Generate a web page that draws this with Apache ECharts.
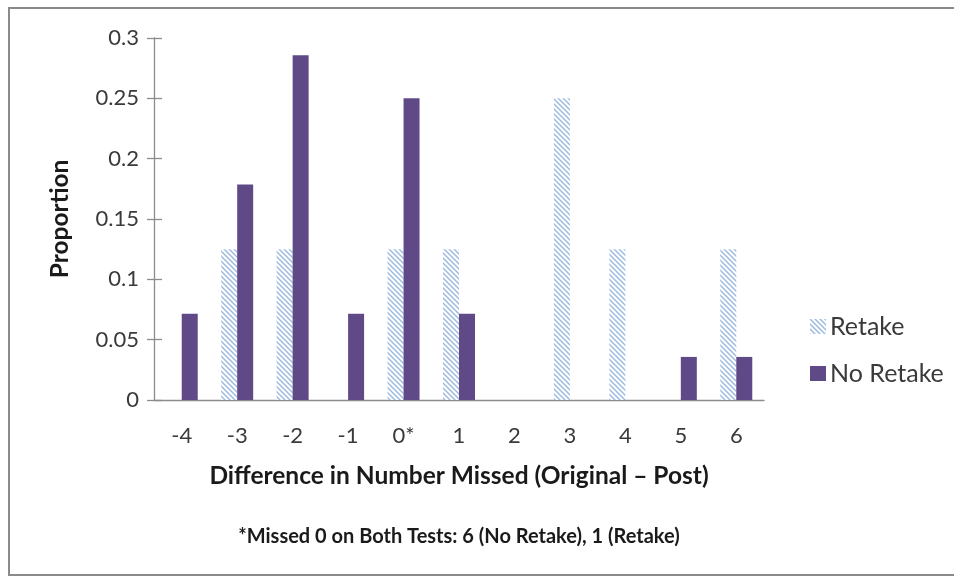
<!DOCTYPE html>
<html>
<head>
<meta charset="utf-8">
<script src="https://cdn.jsdelivr.net/npm/echarts@6/dist/echarts.min.js"></script>
<style>
  html, body { margin: 0; padding: 0; background: #fff; }
  #chart { width: 954px; height: 580px; }
</style>
</head>
<body>
<div id="chart"></div>
<script>
// Difference in number of questions missed (original minus post test)
const categories = ['-4', '-3', '-2', '-1', '0*', '1', '2', '3', '4', '5', '6'];
// Proportion of students in each group
const retake   = [0, 0.125, 0.125, 0, 0.125, 0.125, 0, 0.25, 0.125, 0, 0.125];
const noRetake = [0.0714, 0.1786, 0.2857, 0.0714, 0.25, 0.0714, 0, 0, 0, 0.0357, 0.0357];
const yTicks = { min: 0, max: 0.3, interval: 0.05 };

const FONT = 'Lato, "Open Sans", "Liberation Sans", sans-serif';
const TEXT = '#3a3a3a';
const AXIS = '#8c8c8c';

// Hatched fill: light blue diagonal stripes on white
function hatchPattern() {
  const c = document.createElement('canvas');
  c.width = 5; c.height = 5;
  const g = c.getContext('2d');
  g.fillStyle = '#ffffff';
  g.fillRect(0, 0, 5, 5);
  g.strokeStyle = '#9dbbe0';
  g.lineWidth = 1.5;
  g.beginPath();
  g.moveTo(-1, -1); g.lineTo(6, 6);
  g.moveTo(-1, 4); g.lineTo(1, 6);
  g.moveTo(4, -1); g.lineTo(6, 1);
  g.stroke();
  return { image: c, repeat: 'repeat' };
}

const chart = echarts.init(document.getElementById('chart'), null, { renderer: 'canvas' });
chart.setOption({
  animation: false,
  backgroundColor: '#ffffff',
  grid: { left: 154, right: 190, top: 38, bottom: 180, containLabel: false },
  legend: {
    orient: 'vertical',
    left: 805,
    top: 309,
    itemWidth: 16,
    itemHeight: 15,
    itemGap: 22,
    icon: 'rect',
    textStyle: { fontFamily: FONT, fontSize: 25, color: TEXT, padding: [0, 0, 0, -1] },
    data: ['Retake', 'No Retake']
  },
  xAxis: {
    type: 'category',
    data: categories,
    name: 'Difference in Number Missed (Original \u2013 Post)',
    nameLocation: 'middle',
    nameGap: 64,
    nameTextStyle: { fontFamily: FONT, fontSize: 24.5, fontWeight: 'bold', color: '#1a1a1a' },
    axisLine: { lineStyle: { color: AXIS, width: 1.3 } },
    axisTick: { show: false },
    axisLabel: { fontFamily: FONT, fontSize: 22, color: TEXT, margin: 25 }
  },
  yAxis: [{
    type: 'value',
    min: yTicks.min, max: yTicks.max, interval: yTicks.interval,
    name: 'Proportion',
    nameLocation: 'middle',
    nameGap: 81,
    nameRotate: 90,
    nameTextStyle: { fontFamily: FONT, fontSize: 24.5, fontWeight: 'bold', color: '#1a1a1a' },
    splitLine: { show: false },
    axisLine: { show: true, lineStyle: { color: AXIS, width: 1.3 } },
    axisTick: { show: true, length: 7, lineStyle: { color: AXIS, width: 1.3 } },
    axisLabel: { fontFamily: FONT, fontSize: 22, color: TEXT, margin: 15 }
  }, {
    // inner half of the crossing tick marks
    type: 'value',
    position: 'left',
    min: yTicks.min, max: yTicks.max, interval: yTicks.interval,
    splitLine: { show: false },
    axisLine: { show: false },
    axisTick: { show: true, inside: true, length: 8, lineStyle: { color: AXIS, width: 1.3 } },
    axisLabel: { show: false }
  }],
  series: [{
    name: 'Retake',
    type: 'bar',
    data: retake,
    barWidth: 16,
    barGap: '0%',
    itemStyle: { color: hatchPattern() }
  }, {
    name: 'No Retake',
    type: 'bar',
    data: noRetake,
    barWidth: 16,
    barGap: '0%',
    itemStyle: { color: '#5f4a87' }
  }],
  graphic: [{
    type: 'rect',
    shape: { x: 9, y: 8, width: 960, height: 567 },
    style: { fill: 'none', stroke: '#8a8a8a', lineWidth: 2 },
    silent: true
  }, {
    type: 'text',
    x: 459,
    y: 537,
    style: {
      text: '*Missed 0 on Both Tests: 6 (No Retake), 1 (Retake)',
      font: 'bold 20px ' + FONT,
      fill: '#1a1a1a',
      textAlign: 'center',
      textVerticalAlign: 'middle'
    }
  }]
});
</script>
</body>
</html>
